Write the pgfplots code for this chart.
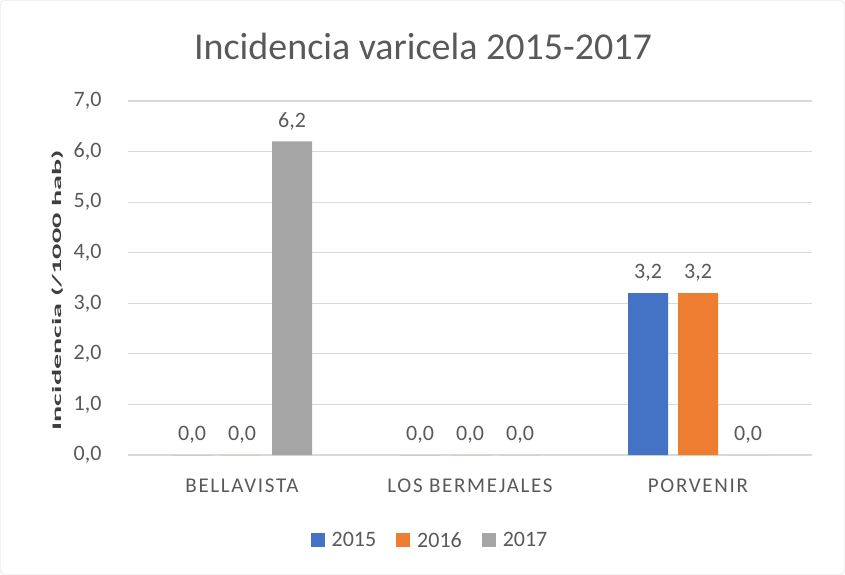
\documentclass[border=0pt]{standalone}
\usepackage{pgfplots}
\pgfplotsset{compat=1.18}
\usepackage{fontspec}
\setmainfont{Carlito}
\definecolor{c15}{HTML}{4472C4}
\definecolor{c16}{HTML}{ED7D31}
\definecolor{c17}{HTML}{A5A5A5}
\definecolor{txt}{HTML}{595959}
\definecolor{gridc}{HTML}{D9D9D9}
\begin{document}
\begin{tikzpicture}
\path[use as bounding box] (-128bp,-120bp) rectangle (717bp,455bp);
\draw[gridc, rounded corners=4bp] (-127.5bp,-119.5bp) rectangle (716.5bp,454.5bp);
\begin{axis}[
  at={(0,0)}, anchor=south west,
  scale only axis, width=684bp, height=354bp,
  ybar=10bp, bar width=40bp,
  xmin=-0.5, xmax=2.5, ymin=0, ymax=7,
  xtick=data, xticklabels={BELLAVISTA, LOS BERMEJALES, PORVENIR},
  ytick={0,1,...,7},
  yticklabel style={/pgf/number format/fixed, /pgf/number format/fixed zerofill, /pgf/number format/precision=1, /pgf/number format/use comma, xshift=-23bp},
  /pgf/number format/assume math mode=true,
  ticklabel style={font=\fontsize{22bp}{26bp}\selectfont, text=txt},
  xticklabel style={yshift=-20bp, font=\fontsize{21bp}{26bp}\selectfont\addfontfeature{LetterSpace=8}},
  major tick length=0pt,
  ymajorgrids, grid style={color=gridc, line width=1.2bp},
  axis line style={draw=none},
  nodes near coords,
  nodes near coords style={font=\fontsize{22bp}{26bp}\selectfont, text=txt, /pgf/number format/fixed, /pgf/number format/fixed zerofill, /pgf/number format/precision=1, /pgf/number format/use comma, /pgf/number format/assume math mode=true, yshift=8bp},
  legend style={at={(0.5,0)}, anchor=north, yshift=-73bp, xshift=-40bp, draw=none, legend columns=3,
     font=\fontsize{22bp}{26bp}\selectfont, text=txt,
     /tikz/every odd column/.append style={column sep=5bp},
     /tikz/every even column/.append style={column sep=18bp}},
  legend image code/.code={\fill[#1] (0bp,-7bp) rectangle (14bp,7bp);},
  title={Incidencia varicela 2015-2017},
  title style={font=\fontsize{38bp}{44bp}\selectfont, text=txt, yshift=32bp, xshift=-47bp},
  ylabel={\scalebox{2.32}[1]{\fontsize{13bp}{14bp}\selectfont\bfseries Incidencia (/1000 hab)}},
  ylabel style={text=txt!70!black, xshift=-12bp, yshift=3bp},
]
\addplot[fill=c15, draw=none] coordinates {(0,0) (1,0) (2,3.2)};
\addplot[fill=c16, draw=none] coordinates {(0,0) (1,0) (2,3.2)};
\addplot[fill=c17, draw=none] coordinates {(0,6.2) (1,0) (2,0)};
\legend{2015,2016,2017}
\end{axis}
\end{tikzpicture}
\end{document}
